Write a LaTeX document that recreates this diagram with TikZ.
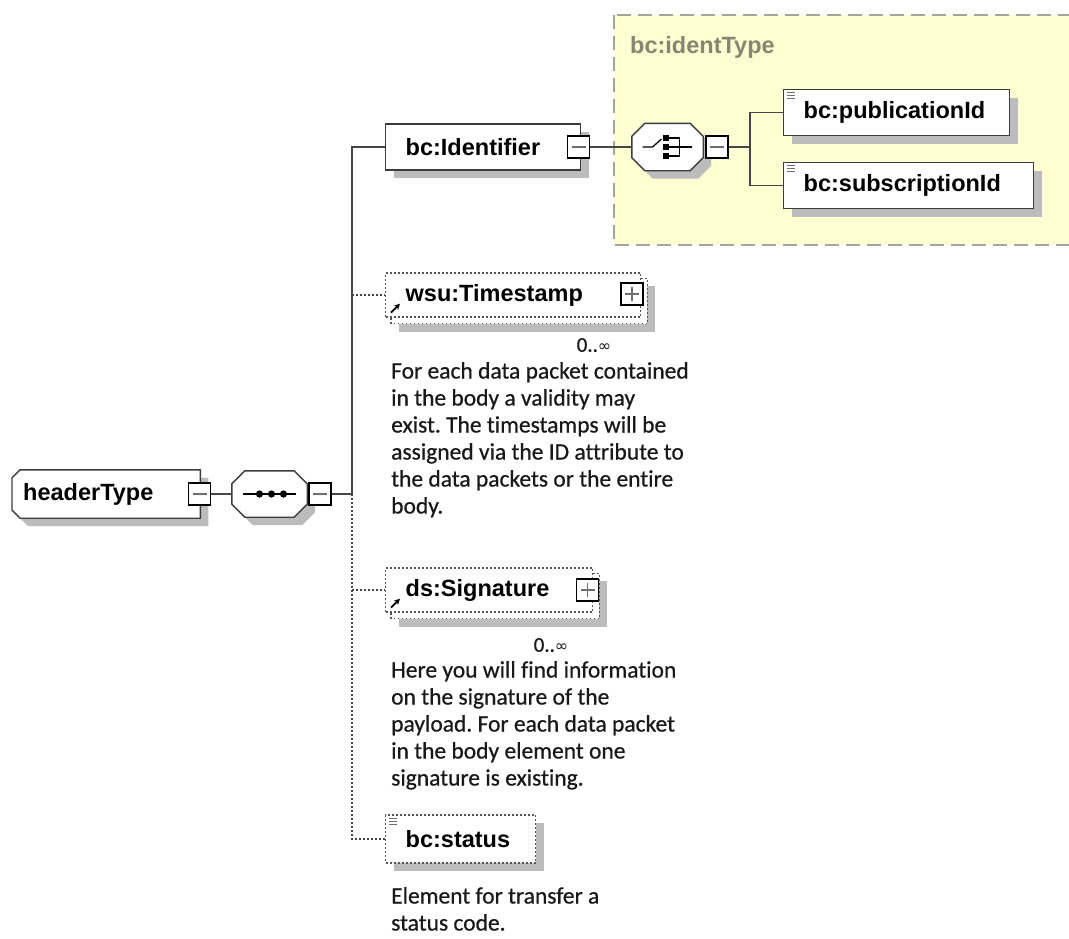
\documentclass[tikz,border=0pt]{standalone}
\usepackage{fontspec}
\setmainfont{Carlito}[Ligatures={NoCommon,NoRequired,NoContextual},FakeBold=0.6]
\newfontfamily\elemfont{Liberation Sans}
\newfontfamily\symfont{DejaVu Sans}
\usetikzlibrary{calc,backgrounds,arrows.meta}
\frenchspacing

\definecolor{boxline}{RGB}{60,60,60}
\definecolor{connline}{RGB}{70,70,70}
\definecolor{dotcol}{RGB}{85,85,85}
\definecolor{shadowgray}{RGB}{188,188,188}
\definecolor{typefill}{RGB}{255,253,210}
\definecolor{typeborder}{RGB}{165,165,158}
\definecolor{typetext}{RGB}{135,135,112}
\definecolor{iconline}{RGB}{110,110,110}
\definecolor{doctext}{RGB}{25,25,25}

\begin{document}
\begin{tikzpicture}[x=1pt,y=-1pt,
  ename/.style={font=\elemfont\bfseries\fontsize{23.5}{26}\selectfont, text=black},
  elem/.style={ename, rectangle, draw=boxline, line width=1.4pt, fill=white,
    inner xsep=20pt, inner ysep=0pt, align=left, minimum height=46pt},
  shadowed/.style={preaction={fill=shadowgray, draw=none,
    transform canvas={shift={(8pt,-8pt)}}}},
  optelem/.style={elem, draw=dotcol, dash pattern=on 1.8pt off 2.2pt,
    line width=1.4pt, minimum height=44pt},
  dotline/.style={draw=dotcol, dash pattern=on 1.8pt off 2.2pt, line width=1.4pt},
  shadowfill/.style={fill=shadowgray, draw=none},
  outline/.style={draw=boxline, line width=1.4pt, fill=white},
  tog/.style={draw=black, line width=1.6pt, fill=white, minimum size=22pt,
    inner sep=0pt, rectangle},
  minusbox/.style={tog, path picture={
    \draw[iconline, line width=1.3pt]
      ($(path picture bounding box.west)+(4,0)$) --
      ($(path picture bounding box.east)+(-4,0)$);}},
  plusbox/.style={tog, path picture={
    \draw[iconline, line width=1.3pt]
      ($(path picture bounding box.west)+(4,0)$) --
      ($(path picture bounding box.east)+(-4,0)$);
    \draw[iconline, line width=1.3pt]
      ($(path picture bounding box.north)+(0,4)$) --
      ($(path picture bounding box.south)+(0,-4)$);}},
  conn/.style={draw=connline, line width=1.3pt},
  optconn/.style={draw=connline, line width=1.3pt, dash pattern=on 1.8pt off 2.2pt},
  doc/.style={font=\fontsize{23.5}{27}\selectfont, align=left, inner sep=0pt,
    anchor=north west, text=doctext},
  card/.style={font=\fontsize{21}{24}\selectfont, inner sep=0pt, text=doctext},
  compositor/.style={rectangle, inner sep=0pt, draw=none}
]
\useasboundingbox (0,0) rectangle (1069,938);

% ---------- nodes ----------
\node[ename, anchor=west, inner sep=0pt, text=typetext] (itlabel) at (630,47) {bc:identType};

\node[ename, rectangle, inner xsep=11pt, inner ysep=0pt, text width=166pt,
      align=left, minimum height=48pt, anchor=west] (ht) at (12,494) {headerType};
\node[minusbox] (htm) at (199.5,494) {};
\node[compositor, minimum width=75pt, minimum height=46pt] (seq) at (269.5,494) {};
\node[minusbox] (seqm) at (320,494) {};
\coordinate (jn) at (352,494);

\node[elem, shadowed, text width=155pt, anchor=west] (ident) at (385,147) {bc:Identifier};
\node[minusbox] (identm) at (578.5,147) {};
\node[compositor, minimum width=71pt, minimum height=47pt] (cho) at (667.5,147) {};
\node[minusbox] (chom) at (717,147) {};
\coordinate (cj) at (750,147);
\node[elem, shadowed, text width=186pt, anchor=west] (pub) at (783,112.5) {bc:publicationId};
\node[elem, shadowed, text width=210pt, anchor=west] (sub) at (783,185.5) {bc:subscriptionId};

\node[optelem, text width=215pt, anchor=west] (ts) at (385,295) {wsu:Timestamp};
\node[plusbox] (tsp) at (632,294) {};
\node[card] (tscard) at (594,345) {0..{\symfont\fontsize{16}{16}\selectfont ∞}};
\node[doc] (tsdoc) at (391,362) {For each data packet contained\\in the body a validity may\\exist. The timestamps will be\\assigned via the ID attribute to\\the data packets or the entire\\body.};

\node[optelem, text width=167pt, anchor=west] (sig) at (385,590) {ds:Signature};
\node[plusbox] (sigp) at (587.5,590) {};
\node[card] (sigcard) at (551,645) {0..{\symfont\fontsize{16}{16}\selectfont ∞}};
\node[doc] (sigdoc) at (391,661) {Here you will find information\\on the signature of the\\payload. For each data packet\\in the body element one\\signature is existing.};

\node[optelem, shadowed, text width=110pt, anchor=west, minimum height=48pt] (st) at (385,839) {bc:status};
\node[doc] (stdoc) at (391,887) {Element for transfer a\\status code.};

% ---------- backgrounds, shadows and outlines ----------
\begin{scope}[on background layer]
  \fill[white] (0,0) rectangle (1069,938);
  \draw[fill=typefill, draw=typeborder, line width=1.3pt, dash pattern=on 14pt off 7pt]
    (614,15) rectangle (1075,245);
  % complex type: left corners cut
  \path[shadowfill, transform canvas={shift={(8pt,-8pt)}}]
    ($(ht.north west)+(8,0)$) -- (ht.north east) -- (ht.south east) --
    ($(ht.south west)+(8,0)$) -- ($(ht.south west)+(0,-8)$) -- ($(ht.north west)+(0,8)$) -- cycle;
  \path[outline]
    ($(ht.north west)+(8,0)$) -- (ht.north east) -- (ht.south east) --
    ($(ht.south west)+(8,0)$) -- ($(ht.south west)+(0,-8)$) -- ($(ht.north west)+(0,8)$) -- cycle;
  % sequence compositor
  \path[shadowfill, transform canvas={shift={(8pt,-8pt)}}]
    ($(seq.north west)+(13,0)$) -- ($(seq.north east)+(-13,0)$) -- ($(seq.north east)+(0,13)$) --
    ($(seq.south east)+(0,-13)$) -- ($(seq.south east)+(-13,0)$) -- ($(seq.south west)+(13,0)$) --
    ($(seq.south west)+(0,-13)$) -- ($(seq.north west)+(0,13)$) -- cycle;
  \path[outline]
    ($(seq.north west)+(13,0)$) -- ($(seq.north east)+(-13,0)$) -- ($(seq.north east)+(0,13)$) --
    ($(seq.south east)+(0,-13)$) -- ($(seq.south east)+(-13,0)$) -- ($(seq.south west)+(13,0)$) --
    ($(seq.south west)+(0,-13)$) -- ($(seq.north west)+(0,13)$) -- cycle;
  % choice compositor
  \path[shadowfill, transform canvas={shift={(8pt,-8pt)}}]
    ($(cho.north west)+(13,0)$) -- ($(cho.north east)+(-13,0)$) -- ($(cho.north east)+(0,13)$) --
    ($(cho.south east)+(0,-13)$) -- ($(cho.south east)+(-13,0)$) -- ($(cho.south west)+(13,0)$) --
    ($(cho.south west)+(0,-13)$) -- ($(cho.north west)+(0,13)$) -- cycle;
  \path[outline]
    ($(cho.north west)+(13,0)$) -- ($(cho.north east)+(-13,0)$) -- ($(cho.north east)+(0,13)$) --
    ($(cho.south east)+(0,-13)$) -- ($(cho.south east)+(-13,0)$) -- ($(cho.south west)+(13,0)$) --
    ($(cho.south west)+(0,-13)$) -- ($(cho.north west)+(0,13)$) -- cycle;
  % stacked boxes of repeated elements
  \fill[shadowgray, transform canvas={shift={(14pt,-14pt)}}] (ts.north west) rectangle (ts.south east);
  \draw[dotline, fill=white, transform canvas={shift={(6pt,-6pt)}}] (ts.north west) rectangle (ts.south east);
  \fill[shadowgray, transform canvas={shift={(14pt,-14pt)}}] (sig.north west) rectangle (sig.south east);
  \draw[dotline, fill=white, transform canvas={shift={(6pt,-6pt)}}] (sig.north west) rectangle (sig.south east);
\end{scope}

% ---------- compositor symbols ----------
\draw[black, line width=1.4pt] ($(seq.west)+(11,0)$) -- ($(seq.east)+(-11,0)$);
\foreach \dx in {-10,2,14} \fill[black] ($(seq.center)+(\dx,0)$) circle (3.6);

\draw[black, line width=1.3pt] ($(cho.center)+(-25,0)$) -- ($(cho.center)+(-15,0)$) -- ($(cho.center)+(-6,-8)$);
\foreach \dy in {-9,0,9} \fill[black] ($(cho.center)+(-2,\dy)+(-3,-3)$) rectangle ++(6,6);
\draw[black, line width=1.1pt] ($(cho.center)+(1,-9)$) -- ($(cho.center)+(12,-9)$) -- ($(cho.center)+(12,9)$) -- ($(cho.center)+(1,9)$);
\draw[black, line width=1.1pt] ($(cho.center)+(1,0)$) -- ($(cho.center)+(24,0)$);

% ---------- simple content markers ----------
\foreach \n in {pub,sub,st}
  \foreach \dy in {4,7,10}
    \draw[iconline, line width=0.9pt] ($(\n.north west)+(4,\dy)$) -- ++(8,0);

% ---------- reference arrows ----------
\draw[black, line width=1.8pt, -{Stealth[length=6pt,width=6pt]}] ($(ts.south west)+(6,-5)$) -- ++(9,-9);
\draw[black, line width=1.8pt, -{Stealth[length=6pt,width=6pt]}] ($(sig.south west)+(6,-5)$) -- ++(9,-9);

% ---------- connectors ----------
\draw[conn] (htm.east) -- (seq.west);
\draw[conn] (seqm.east) -- (jn);
\draw[conn] (jn) |- (ident.west);
\draw[optconn] (jn) |- (st.west);
\draw[optconn] (ts.west -| jn) -- (ts.west);
\draw[optconn] (sig.west -| jn) -- (sig.west);
\draw[conn] (identm.east) -- (cho.west);
\draw[conn] (chom.east) -- (cj);
\draw[conn] (cj) |- (pub.west);
\draw[conn] (cj) |- (sub.west);
\end{tikzpicture}
\end{document}
